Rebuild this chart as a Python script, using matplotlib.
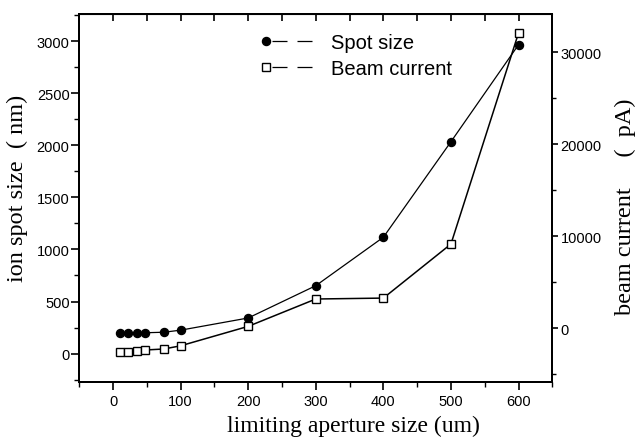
import numpy as np
import matplotlib
matplotlib.use("Agg")
import matplotlib.pyplot as plt
from matplotlib.lines import Line2D
from matplotlib.legend_handler import HandlerLine2D
from matplotlib.ticker import MultipleLocator

# aperture sizes (um)
aperture = [10, 22, 35, 47, 75, 100, 200, 300, 400, 500, 600]
# ion spot size (nm), left axis
spot_size = [200, 200, 200, 200, 205, 225, 342, 652, 1117, 2034, 2965]
# beam current (pA), right axis
beam_current = [-2650, -2600, -2500, -2390, -2280, -1930, 185, 3160, 3260, 9140, 32100]

x_ticks = [0, 100, 200, 300, 400, 500, 600]
left_ticks = [0, 500, 1000, 1500, 2000, 2500, 3000]
right_ticks = [0, 10000, 20000, 30000]

sans = ["Liberation Sans", "DejaVu Sans"]
serif = ["Liberation Serif", "DejaVu Serif"]


class MarkerFirst(HandlerLine2D):
    # legend entry: marker on the left, dashes after it
    def create_artists(self, *args, **kwargs):
        arts = super().create_artists(*args, **kwargs)
        for a in arts:
            a.set_markevery([0])
        return arts


fig = plt.figure(figsize=(6.36, 4.39), dpi=100)
ax = fig.add_axes([0.1247, 0.1282, 0.7437, 0.8376])
ax2 = ax.twinx()

ax.plot(aperture, spot_size, color="black", lw=0.9, marker="o", ms=5.8,
        mfc="black", mec="black", zorder=3)
ax2.plot(aperture, beam_current, color="black", lw=1.1, marker="s", ms=5.8,
         mfc="white", mec="black", mew=1.0, zorder=3)

ax.set_xlim(-50, 650)
ax.set_ylim(-270, 3260)
ax2.set_ylim(-5840, 34170)

ax.set_xticks(x_ticks)
ax.xaxis.set_minor_locator(MultipleLocator(50))
ax.set_yticks(left_ticks)
ax.yaxis.set_minor_locator(MultipleLocator(250))
ax2.set_yticks(right_ticks)
ax2.yaxis.set_minor_locator(MultipleLocator(5000))

for a in (ax, ax2):
    for s in a.spines.values():
        s.set_linewidth(1.4)
    a.tick_params(which="major", length=5.5, width=1.2, direction="out",
                  labelsize=10.5, pad=1.5)
    a.tick_params(which="minor", length=3.5, width=1.0, direction="out")
    for lab in a.get_xticklabels() + a.get_yticklabels():
        lab.set_family(sans)
ax.tick_params(axis="x", which="major", pad=3)
ax2.tick_params(axis="y", which="major", length=4, pad=2)
ax2.tick_params(axis="y", which="minor", length=3)

top = ax.secondary_xaxis("top")
top.set_xticks(np.arange(0, 601, 50))
top.tick_params(direction="in", length=5, width=1.2, labeltop=False)
top.xaxis.set_minor_locator(MultipleLocator(1000))

ax.set_xlabel("limiting aperture size (um)", family=serif, fontsize=17)
ax.xaxis.set_label_coords(0.58, -0.09)
ax.xaxis.label.set_va("top")
fig.text(0.027, 0.572, "ion spot size  ( nm)", family=serif, fontsize=17.5,
         rotation=90, ha="center", va="center")
fig.text(0.983, 0.528, "beam current     (  pA)", family=serif,
         fontsize=17.5, rotation=90, ha="center", va="center")

# legend dashes start with a small gap after the marker
dash = (15.2, (12, 8))
h1 = Line2D([], [], color="black", ls=dash, lw=0.9, marker="o",
            ms=5.8, mfc="black", mec="black")
h2 = Line2D([], [], color="black", ls=dash, lw=0.9, marker="s",
            ms=5.8, mfc="white", mec="black")
leg = ax.legend([h1, h2], ["Spot size", "Beam current"], loc="upper left",
                bbox_to_anchor=(0.343, 0.997), frameon=False, numpoints=2,
                handlelength=2.94, handletextpad=0.6, labelspacing=0.35,
                prop={"family": sans, "size": 14.5},
                handler_map={Line2D: MarkerFirst()})

fig.savefig("out.png", dpi=100)
